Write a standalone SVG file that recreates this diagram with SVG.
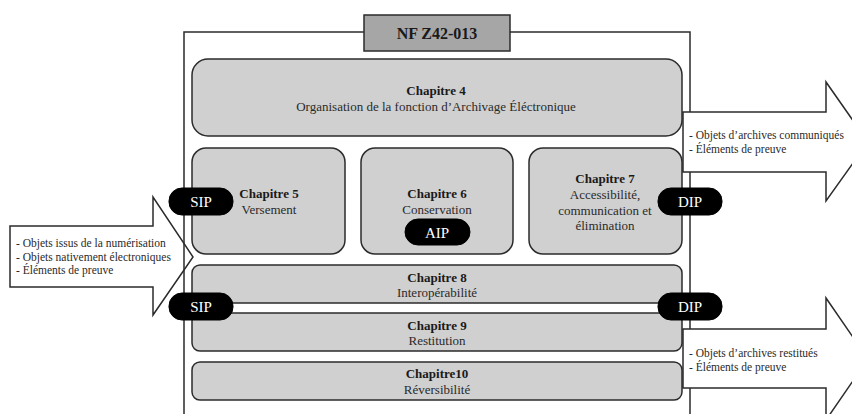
<svg xmlns="http://www.w3.org/2000/svg" width="852" height="414" viewBox="0 0 852 414">
<style>
.box{fill:#d0d0d0;stroke:#2b2b2b;stroke-width:1.5}
.frame{fill:none;stroke:#2b2b2b;stroke-width:1.5}
.arrow{fill:#ffffff;stroke:#2b2b2b;stroke-width:1.5;stroke-linejoin:miter}
.pill{fill:#000000;stroke:#000000;stroke-width:1}
.t{font-family:"Liberation Serif","Times New Roman",serif;font-size:13px;fill:#2a2a2a;text-anchor:middle}
.b{font-weight:bold;fill:#1a1a1a}
.p{font-family:"Liberation Serif","Times New Roman",serif;font-size:15px;fill:#ffffff;text-anchor:middle}
.s{font-family:"Liberation Serif","Times New Roman",serif;font-size:11.5px;fill:#2a2a2a}
</style>
<rect x="0" y="0" width="852" height="414" fill="#ffffff"/>
<g id="left-arrow">
<polygon class="arrow" points="10,226 153,226 153,197 193,257 153,315 153,287 10,287"/>
<text class="s" x="16" y="247">- Objets issus de la numérisation</text>
<text class="s" x="16" y="261">- Objets nativement électroniques</text>
<text class="s" x="16" y="274">- Éléments de preuve</text>
</g>
<g id="frame">
<rect class="frame" x="184" y="32" width="506" height="400"/>
</g>
<g id="title">
<rect x="364" y="15" width="146" height="36" fill="#a6a6a6" stroke="#2b2b2b" stroke-width="1.5"/>
<text class="t b" x="437" y="39" style="font-size:16px">NF Z42-013</text>
</g>
<g id="ch4">
<rect class="box" x="192" y="59" width="490" height="77" rx="16"/>
<text class="t b" x="436" y="95">Chapitre 4</text>
<text class="t" x="436" y="111">Organisation de la fonction d’Archivage Éléctronique</text>
</g>
<g id="ch5">
<rect class="box" x="192" y="148" width="153" height="106" rx="14"/>
<text class="t b" x="269" y="198">Chapitre 5</text>
<text class="t" x="269" y="214">Versement</text>
</g>
<g id="ch6">
<rect class="box" x="361" y="148" width="152" height="106" rx="14"/>
<text class="t b" x="437" y="198">Chapitre 6</text>
<text class="t" x="437" y="214">Conservation</text>
</g>
<g id="ch7">
<rect class="box" x="529" y="148" width="153" height="106" rx="14"/>
<text class="t b" x="605" y="183">Chapitre 7</text>
<text class="t" x="605" y="199">Accessibilité,</text>
<text class="t" x="605" y="215">communication et</text>
<text class="t" x="605" y="230">élimination</text>
</g>
<g id="ch8">
<rect class="box" x="192" y="265" width="490" height="38" rx="8"/>
<text class="t b" x="437" y="282">Chapitre 8</text>
<text class="t" x="437" y="297">Interopérabilité</text>
</g>
<g id="ch9">
<rect class="box" x="192" y="313" width="490" height="38" rx="8"/>
<text class="t b" x="437" y="330">Chapitre 9</text>
<text class="t" x="437" y="345">Restitution</text>
</g>
<g id="ch10">
<rect class="box" x="192" y="362" width="490" height="38" rx="8"/>
<text class="t b" x="437" y="378">Chapitre10</text>
<text class="t" x="437" y="394">Réversibilité</text>
</g>
<g id="right-arrow-top">
<polygon class="arrow" points="683,112 826,112 826,82 868,142 826,201 826,172 683,172"/>
<text class="s" x="689" y="139">- Objets d’archives communiqués</text>
<text class="s" x="689" y="153">- Éléments de preuve</text>
</g>
<g id="right-arrow-bottom">
<polygon class="arrow" points="683,329 826,329 826,298 868,359 826,420 826,388 683,388"/>
<text class="s" x="689" y="357">- Objets d’archives restitués</text>
<text class="s" x="689" y="371">- Éléments de preuve</text>
</g>
<g id="connectors">
<g id="sip-top"><rect class="pill" x="169" y="188" width="64" height="27" rx="13"/><text class="p" x="201" y="207">SIP</text></g>
<g id="dip-top"><rect class="pill" x="658" y="188" width="64" height="27" rx="13"/><text class="p" x="690" y="207">DIP</text></g>
<g id="aip"><rect class="pill" x="405" y="219" width="65" height="26" rx="13"/><text class="p" x="437" y="238">AIP</text></g>
<g id="sip-bottom"><rect class="pill" x="169" y="293" width="64" height="27" rx="13"/><text class="p" x="201" y="312">SIP</text></g>
<g id="dip-bottom"><rect class="pill" x="658" y="293" width="64" height="27" rx="13"/><text class="p" x="690" y="312">DIP</text></g>
</g>
</svg>
